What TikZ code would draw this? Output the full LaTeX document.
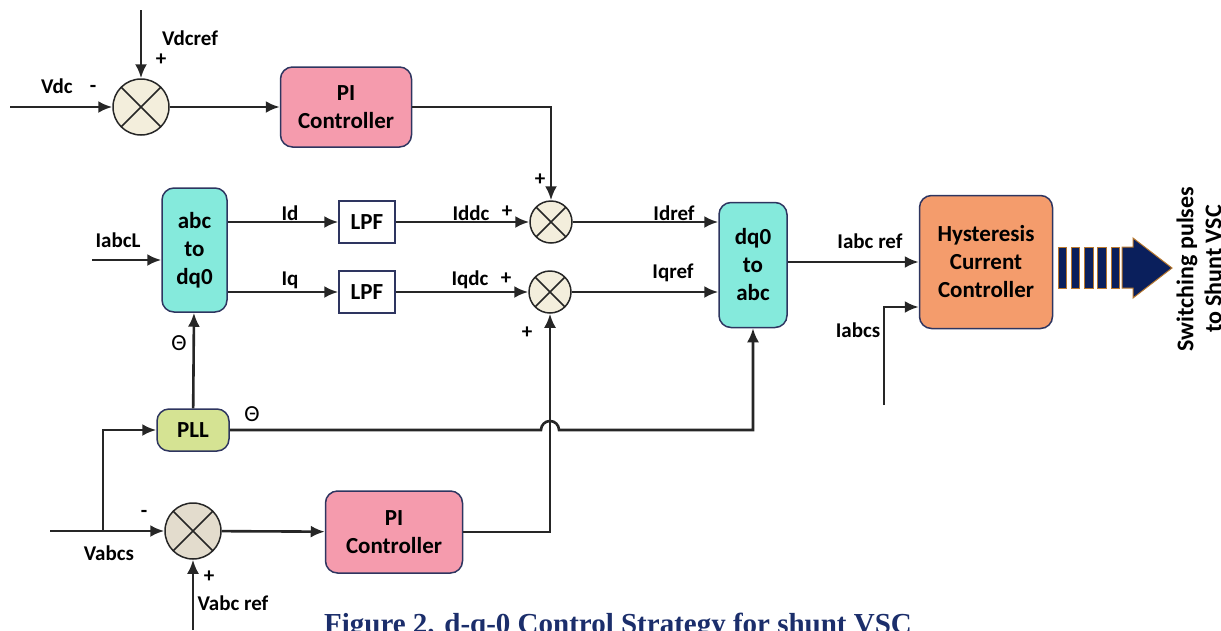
\documentclass[tikz,border=0pt]{standalone}
\usepackage{fontspec}
\setmainfont{Carlito}
\newfontfamily\captionfont{Liberation Serif}
\usepackage{xcolor}
\usetikzlibrary{arrows.meta, positioning, calc}

\definecolor{picolor}{HTML}{F59BAD}
\definecolor{convcolor}{HTML}{85EADC}
\definecolor{pllcolor}{HTML}{D5E393}
\definecolor{hyscolor}{HTML}{F49C6C}
\definecolor{sumcolor}{HTML}{F3EEDC}
\definecolor{sumgrey}{HTML}{E3DCCD}
\definecolor{boxline}{HTML}{2E3560}
\definecolor{pulsenavy}{HTML}{0A1F5C}
\definecolor{pulseedge}{HTML}{B8782E}
\definecolor{captionblue}{HTML}{1B2E6B}

\begin{document}
\begin{tikzpicture}[x=1pt, y=-1pt,
    block/.style={rectangle, draw=boxline, line width=1.5pt, rounded corners=12pt, align=center, inner sep=0pt, font=\fontsize{23}{28}\selectfont\bfseries},
    lpf/.style={rectangle, draw=boxline, line width=1.5pt, fill=white, minimum width=56pt, minimum height=42pt, inner sep=0pt, font=\fontsize{23}{28}\selectfont\bfseries},
    sum/.style={circle, draw=black!85, line width=1.5pt, fill=sumcolor, minimum size=56pt, inner sep=0pt,
        path picture={\draw[line width=1.5pt, black!85] (path picture bounding box.north west) -- (path picture bounding box.south east)
                      (path picture bounding box.north east) -- (path picture bounding box.south west);}},
    lbl/.style={inner sep=1pt, font=\fontsize{21}{24}\selectfont\bfseries},
    ang/.style={inner sep=1pt, font=\fontsize{23}{25}\selectfont},
    line/.style={draw=black!85, line width=2.6pt, -{Latex[length=14pt, width=12pt]}},
    pulse/.style={fill=pulsenavy, draw=pulseedge, line width=1pt}]

    \useasboundingbox (0,0) rectangle (1221,630);

    % dc voltage loop
    \node [sum] (sdc) at (141,107) {};
    \node [block, fill=picolor, minimum width=131pt, minimum height=80pt] (pidc) at (346,107) {PI\\Controller};
    \coordinate (vdcin) at (10,107);
    \coordinate (vdcrefin) at (141,10);

    % abc to dq0 and filters
    \node [block, fill=convcolor, minimum width=65pt, minimum height=124pt] (abcdq) at (194.5,250) {abc\\to\\dq0};
    \node [lpf] (lpfd) at (367,222) {LPF};
    \node [lpf] (lpfq) at (367,292) {LPF};
    \node [sum, minimum size=42pt] (sd) at (551,222) {};
    \node [sum, minimum size=42pt] (sq) at (550,292) {};
    \node [block, fill=convcolor, minimum width=68pt, minimum height=125pt] (dqabc) at (753,265) {dq0\\to\\abc};
    \node [block, fill=hyscolor, minimum width=133pt, minimum height=133pt] (hcc) at (986,262) {Hysteresis\\Current\\Controller};
    \coordinate (iabclin) at (92,260);
    \coordinate (iabcsin) at (884,405);

    % PLL and ac voltage loop
    \node [block, fill=pllcolor, minimum width=72pt, minimum height=42pt] (pll) at (193,430) {PLL};
    \node [sum, fill=sumgrey] (svac) at (193,531) {};
    \node [block, fill=picolor, minimum width=137pt, minimum height=82pt] (piac) at (394,532) {PI\\Controller};
    \coordinate (vabcsin) at (50,531);
    \coordinate (tap) at (103,531);
    \coordinate (vabcrefin) at (193,630);

    % connectors
    \path [line] (vdcin) -- (sdc);
    \path [line] (vdcrefin) -- (sdc);
    \path [line] (sdc) -- (pidc);
    \path [line] (pidc) -| (sd);
    \path [line] (iabclin) -- (iabclin -| abcdq.west);
    \path [line] (abcdq.east |- lpfd) -- (lpfd);
    \path [line] (abcdq.east |- lpfq) -- (lpfq);
    \path [line] (lpfd) -- (sd);
    \path [line] (lpfq) -- (sq);
    \path [line] (sd) -- (sd -| dqabc.west);
    \path [line] (sq) -- (sq -| dqabc.west);
    \path [line] (dqabc.east |- hcc) -- (hcc);
    \path [line] (iabcsin) |- ($(hcc.west)+(0,45)$);
    \path [line] (vabcsin) -- (svac);
    \path [line] (tap) |- (pll);
    \path [line] (vabcrefin) -- (svac);
    \path [line] (svac) -- (piac);
    \path [line] (piac) -| (sq);
    \path [line] (pll) -- (abcdq);
    \path [line] (pll.east) -- ($(sq |- pll)+(-9,0)$) arc [start angle=180, end angle=360, radius=9] -| (dqabc.south);

    % labels
    \node [lbl] at (57,86) {Vdc};
    \node [lbl] at (93,89) {-};
    \node [lbl] at (190,38) {Vdcref};
    \node [lbl] at (161,60) {+};
    \node [lbl] at (118,240) {IabcL};
    \node [lbl] at (290,213) {Id};
    \node [lbl] at (290,280) {Iq};
    \node [lbl] at (471,213) {Iddc};
    \node [lbl] at (507,212) {+};
    \node [lbl] at (470,280) {Iqdc};
    \node [lbl] at (506,279) {+};
    \node [lbl] at (540,180) {+};
    \node [lbl] at (527,333) {+};
    \node [lbl] at (674,213) {Idref};
    \node [lbl] at (673,273) {Iqref};
    \node [lbl] at (870,241) {Iabc ref};
    \node [lbl] at (858,330) {Iabcs};
    \node [ang] at (179,343) {Θ};
    \node [ang] at (252,414) {Θ};
    \node [lbl] at (109,553) {Vabcs};
    \node [lbl] at (144,514) {-};
    \node [lbl] at (209,577) {+};
    \node [lbl] at (233,603) {Vabc ref};

    % switching pulses
    \foreach \x in {1058,1071.3,1084.6,1097.9,1111.2}
        \draw [pulse] (\x,247) rectangle ++(8.5,41);
    \draw [pulse] (1122,247) -- (1133,247) -- (1133,238) -- (1172,268) -- (1133,298) -- (1133,288) -- (1122,288) -- cycle;
    \node [rotate=90, align=center, font=\fontsize{24}{28}\selectfont\bfseries] (pulses) at (1199,269) {Switching pulses\\to Shunt VSC};

    % caption
    \node [anchor=base, inner sep=0pt, text=captionblue, font=\captionfont\bfseries\fontsize{29}{32}\selectfont] (caption) at (618,633) {Figure 2. d-q-0 Control Strategy for shunt VSC};
\end{tikzpicture}
\end{document}
